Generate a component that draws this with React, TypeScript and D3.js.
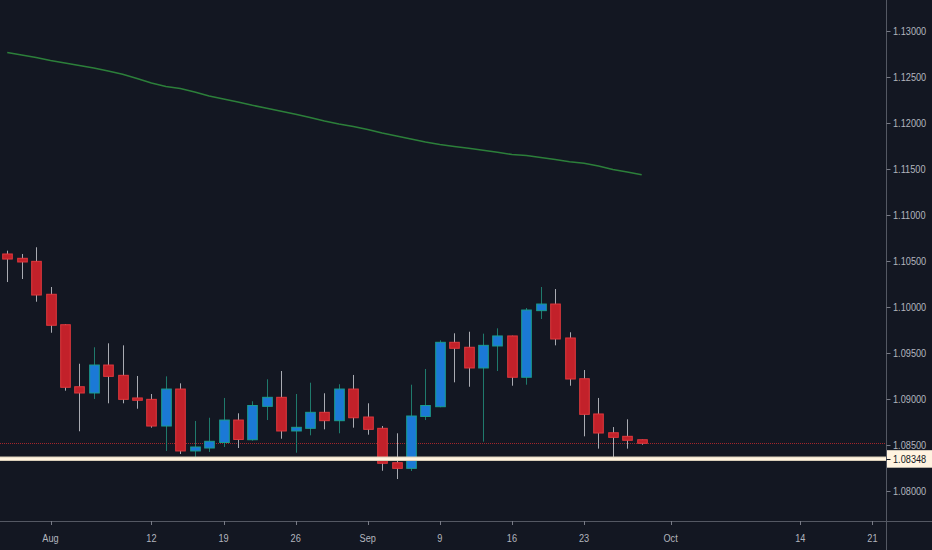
import { useRef, useEffect } from "react";
import * as d3 from "d3";

// daily bars, first bar is Jul 29 (index -3 relative to Aug 1)
const firstIndex = -3;
const opens = [
  1.10573, 1.10526, 1.10493, 1.10135, 1.09804, 1.0913, 1.09062, 1.09366, 1.09254, 1.09008,
  1.08993, 1.08703, 1.09105, 1.08432, 1.08464, 1.08524, 1.08768, 1.08554, 1.08917, 1.09015,
  1.08649, 1.08678, 1.08852, 1.08761, 1.09105, 1.08801, 1.08678, 1.08304, 1.08243, 1.08807,
  1.08913, 1.09613, 1.09559, 1.09334, 1.09573, 1.09682, 1.09233, 1.09957, 1.10029, 1.0966,
  1.09217, 1.08834, 1.0863, 1.08591, 1.08554,
];
const highs = [
  1.10609, 1.10573, 1.10646, 1.10214, 1.0981, 1.0938, 1.09559, 1.09602, 1.0958, 1.09247,
  1.09051, 1.09243, 1.09167, 1.08758, 1.08793, 1.09008, 1.08841, 1.08972, 1.09211, 1.09301,
  1.09051, 1.09174, 1.09059, 1.09157, 1.09258, 1.0895, 1.08703, 1.08624, 1.09152, 1.09323,
  1.09635, 1.09711, 1.09728, 1.09707, 1.09765, 1.09685, 1.09986, 1.10214, 1.10192, 1.09722,
  1.09312, 1.09008, 1.08692, 1.08776, 1.08556,
];
const lows = [
  1.10268, 1.10301, 1.10054, 1.09717, 1.09087, 1.08646, 1.08997, 1.0895, 1.0895, 1.08891,
  1.08685, 1.08432, 1.08399, 1.08366, 1.08421, 1.08475, 1.08464, 1.08543, 1.08768, 1.08565,
  1.08413, 1.08602, 1.08667, 1.08624, 1.08685, 1.08609, 1.08217, 1.08127, 1.08214, 1.08768,
  1.08907, 1.09178, 1.0913, 1.08533, 1.09301, 1.09141, 1.09152, 1.09866, 1.0958, 1.09141,
  1.08591, 1.08457, 1.08334, 1.08457, 1.085,
];
const closes = [
  1.10518, 1.10486, 1.10127, 1.09798, 1.09124, 1.09062, 1.09366, 1.09243, 1.08993, 1.08983,
  1.08703, 1.09105, 1.08432, 1.08475, 1.08537, 1.08768, 1.08557, 1.08926, 1.09015, 1.08649,
  1.08689, 1.08852, 1.08761, 1.09105, 1.08793, 1.08667, 1.08298, 1.08243, 1.08812, 1.08926,
  1.09613, 1.09548, 1.09334, 1.0958, 1.09682, 1.09233, 1.09964, 1.10029, 1.09649, 1.09214,
  1.0883, 1.08627, 1.0858, 1.08548, 1.08515,
];
// moving average, one value per bar
const maValues = [
  1.12763, 1.12736, 1.12709, 1.12676, 1.12649, 1.12622, 1.12595, 1.12562, 1.12526, 1.1248,
  1.12432, 1.12393, 1.12372, 1.12334, 1.1229, 1.12258, 1.12225, 1.12189, 1.12157, 1.12124,
  1.12091, 1.12057, 1.12018, 1.11986, 1.11959, 1.11926, 1.11888, 1.11855, 1.11823, 1.1179,
  1.11763, 1.11741, 1.11722, 1.117, 1.11678, 1.11654, 1.11643, 1.11622, 1.116, 1.11575,
  1.11559, 1.11529, 1.11491, 1.11464, 1.11435,
];

const timeTickLabels = ["Aug", "12", "19", "26", "Sep", "9", "16", "23", "Oct", "14", "21"];
const timeTickIndex = [0, 7, 12, 17, 22, 27, 32, 37, 43, 52, 57];
const priceTicks = [1.08, 1.085, 1.09, 1.095, 1.1, 1.105, 1.11, 1.115, 1.12, 1.125, 1.13];
const levelPrice = 1.08348;
const lastPrice = 1.08515;

type Bar = { i: number; o: number; h: number; l: number; c: number };

const bars: Bar[] = opens.map((o, k) => ({
  i: firstIndex + k,
  o,
  h: highs[k],
  l: lows[k],
  c: closes[k],
}));

export default function App() {
  const ref = useRef<SVGSVGElement>(null);
  const width = 932;
  const height = 550;
  const axisX = 886.5;
  const axisY = 521;

  useEffect(() => {
    if (!ref.current) return;
    const svg = d3.select(ref.current);
    svg.selectAll("*").remove();

    const font = "'Liberation Sans', Arial, sans-serif";
    const squeeze = 0.8; // narrow look of the axis font

    const x = d3.scaleLinear().domain([0, 57]).range([50.5, 872.4]);
    const y = d3.scaleLinear().domain([1.08, 1.13]).range([490.7, 30.7]);

    svg.append("rect").attr("width", width).attr("height", height).attr("fill", "#131722");

    // last price dotted line
    svg
      .append("line")
      .attr("x1", 0)
      .attr("x2", axisX)
      .attr("y1", Math.round(y(lastPrice)) + 0.5)
      .attr("y2", Math.round(y(lastPrice)) + 0.5)
      .attr("stroke", "#a3262b")
      .attr("stroke-width", 1)
      .attr("stroke-dasharray", "1,1");

    // moving average
    const line = d3
      .line<number>()
      .x((_, k) => x(firstIndex + k))
      .y((d) => y(d));
    svg
      .append("path")
      .datum(maValues)
      .attr("fill", "none")
      .attr("stroke", "#2c7f3a")
      .attr("stroke-width", 1.6)
      .attr("d", line);

    // candles
    const bw = 9.6;
    const g = svg.append("g");
    g.selectAll("line.wick")
      .data(bars)
      .join("line")
      .attr("class", "wick")
      .attr("x1", (d) => Math.round(x(d.i)) + 0.5)
      .attr("x2", (d) => Math.round(x(d.i)) + 0.5)
      .attr("y1", (d) => y(d.h))
      .attr("y2", (d) => y(d.l))
      .attr("stroke", (d) => (d.c >= d.o ? "#1f7a6c" : "#a9abb2"))
      .attr("stroke-width", 1);
    g.selectAll("rect.body")
      .data(bars)
      .join("rect")
      .attr("class", "body")
      .attr("x", (d) => Math.round(x(d.i)) + 0.5 - bw / 2)
      .attr("width", bw)
      .attr("y", (d) => y(Math.max(d.o, d.c)))
      .attr("height", (d) => Math.max(1.5, Math.abs(y(d.o) - y(d.c))))
      .attr("fill", (d) => (d.c >= d.o ? "#1b79d6" : "#c2212a"))
      .attr("stroke", (d) => (d.c >= d.o ? "#1a9e8e" : "#e0383d"))
      .attr("stroke-width", 1);

    // horizontal level
    svg
      .append("line")
      .attr("x1", 0)
      .attr("x2", axisX)
      .attr("y1", y(levelPrice))
      .attr("y2", y(levelPrice))
      .attr("stroke", "#d9ceb8")
      .attr("stroke-width", 4.5);
    svg
      .append("line")
      .attr("x1", 0)
      .attr("x2", axisX)
      .attr("y1", y(levelPrice))
      .attr("y2", y(levelPrice))
      .attr("stroke", "#fff3df")
      .attr("stroke-width", 2.5);

    // axis lines
    svg
      .append("line")
      .attr("x1", axisX)
      .attr("x2", axisX)
      .attr("y1", 0)
      .attr("y2", height)
      .attr("stroke", "#545863");
    svg
      .append("line")
      .attr("x1", 0)
      .attr("x2", width)
      .attr("y1", axisY + 0.5)
      .attr("y2", axisY + 0.5)
      .attr("stroke", "#545863");

    // price axis
    const pg = svg.append("g");
    pg.selectAll("line")
      .data(priceTicks)
      .join("line")
      .attr("x1", axisX)
      .attr("x2", axisX + 4)
      .attr("y1", (d) => Math.round(y(d)) + 0.5)
      .attr("y2", (d) => Math.round(y(d)) + 0.5)
      .attr("stroke", "#787b86");
    pg.selectAll("text")
      .data(priceTicks)
      .join("text")
      .attr("transform", (d) => `translate(${axisX + 6.5},${y(d) + 4}) scale(${squeeze},1)`)
      .attr("fill", "#b2b5be")
      .attr("font-family", font)
      .attr("font-size", 11.5)
      .text((d) => d3.format(".5f")(d));

    // time axis
    const tg = svg.append("g");
    tg.selectAll("line")
      .data(timeTickIndex)
      .join("line")
      .attr("x1", (d) => Math.round(x(d)) + 0.5)
      .attr("x2", (d) => Math.round(x(d)) + 0.5)
      .attr("y1", axisY)
      .attr("y2", axisY + 4)
      .attr("stroke", "#787b86");
    tg.selectAll("text")
      .data(timeTickIndex)
      .join("text")
      .attr("transform", (d) => `translate(${x(d)},${axisY + 21}) scale(${squeeze},1)`)
      .attr("text-anchor", "middle")
      .attr("fill", "#b2b5be")
      .attr("font-family", font)
      .attr("font-size", 11.5)
      .text((_, k) => timeTickLabels[k]);

    // level label on price axis
    const ly = y(levelPrice);
    svg
      .append("rect")
      .attr("x", axisX + 0.5)
      .attr("y", ly - 8.5)
      .attr("width", width - axisX)
      .attr("height", 17.5)
      .attr("fill", "#fff3e0");
    svg
      .append("line")
      .attr("x1", axisX)
      .attr("x2", axisX + 4)
      .attr("y1", Math.round(ly) + 0.5)
      .attr("y2", Math.round(ly) + 0.5)
      .attr("stroke", "#131722");
    svg
      .append("text")
      .attr("transform", `translate(${axisX + 6.5},${ly + 4.5}) scale(${squeeze},1)`)
      .attr("fill", "#131722")
      .attr("font-family", font)
      .attr("font-size", 11.5)
      .text(d3.format(".5f")(levelPrice));
  }, []);

  return (
    <svg
      ref={ref}
      width={width}
      height={height}
      style={{ position: "fixed", left: 0, top: 0, display: "block" }}
    />
  );
}
